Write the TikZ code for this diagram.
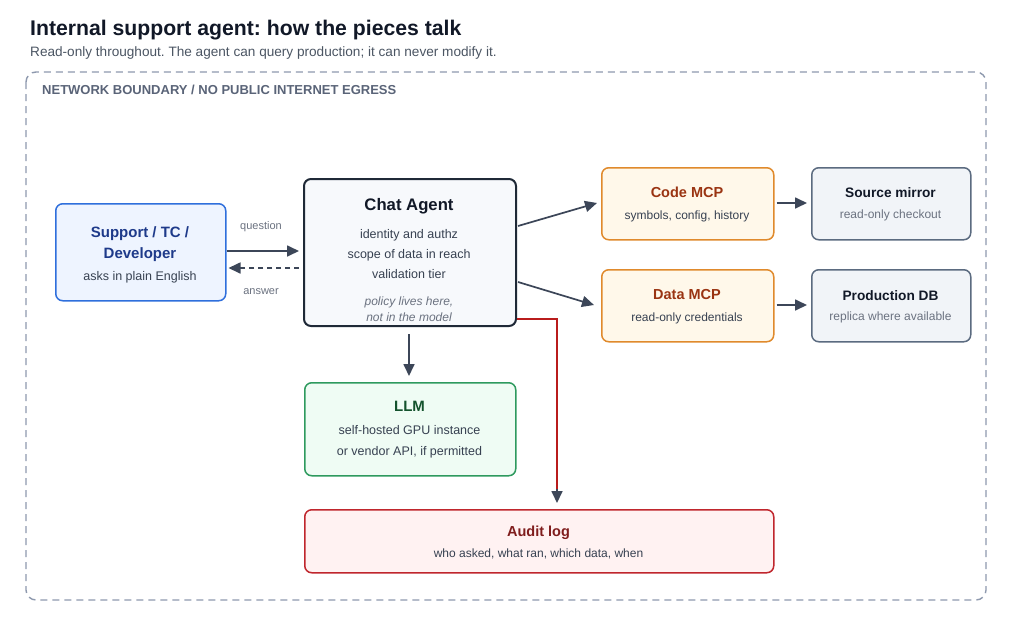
\documentclass[tikz,border=0pt]{standalone}
\usepackage{fontspec}
\setmainfont{Liberation Sans}
\usetikzlibrary{arrows.meta}
\frenchspacing
\definecolor{ink}{HTML}{111827}
\definecolor{sub}{HTML}{4B5563}
\definecolor{bnd}{HTML}{8E99AE}
\definecolor{bndtxt}{HTML}{5A6478}
\definecolor{arr}{HTML}{3C4658}
\definecolor{bluebd}{HTML}{2F6FDC}
\definecolor{bluefill}{HTML}{EEF4FF}
\definecolor{bluetxt}{HTML}{1E3A8A}
\definecolor{chatbd}{HTML}{1F2937}
\definecolor{chatfill}{HTML}{F7F9FC}
\definecolor{orbd}{HTML}{E08A2C}
\definecolor{orfill}{HTML}{FFF8EA}
\definecolor{ortxt}{HTML}{9A3412}
\definecolor{graybd}{HTML}{5B6B80}
\definecolor{grayfill}{HTML}{F1F4F8}
\definecolor{grbd}{HTML}{2E9A5E}
\definecolor{grfill}{HTML}{EFFCF4}
\definecolor{grtxt}{HTML}{14532D}
\definecolor{redbd}{HTML}{C0262D}
\definecolor{redfill}{HTML}{FFF2F2}
\definecolor{redtxt}{HTML}{7F1D1D}
\definecolor{redline}{HTML}{B91C1C}
\definecolor{bodytxt}{HTML}{374151}
\definecolor{mutetxt}{HTML}{6B7280}
\tikzset{
  boxbase/.style={draw, rounded corners=7pt, line width=1.5pt, inner sep=0pt, anchor=north west},
  txt/.style={inner sep=0pt, anchor=base},
  conn/.style={draw=arr, line width=1.7pt, -{Triangle[length=12pt,width=11pt]}},
}
\begin{document}
\begin{tikzpicture}[x=1pt,y=-1pt]
\useasboundingbox[fill=white] (0,0) rectangle (1024,640);
% title
\node[anchor=base west, inner sep=0pt, font=\fontsize{21.2}{24}\selectfont\bfseries, text=ink] (title) at (30,35) {Internal support agent: how the pieces talk};
\node[anchor=base west, inner sep=0pt, font=\fontsize{13.6}{16}\selectfont, text=sub] (subtitle) at (30,56) {Read-only throughout. The agent can query production; it can never modify it.};
% boundary
\draw[draw=bnd, line width=1.4pt, dash pattern=on 7pt off 5pt, rounded corners=10pt] (26,72) rectangle (986,600);
\node[anchor=base west, inner sep=0pt, font=\fontsize{13}{15}\selectfont\bfseries, text=bndtxt] (bndlabel) at (42,94) {NETWORK BOUNDARY / NO PUBLIC INTERNET EGRESS};

% support box
\node[boxbase, draw=bluebd, fill=bluefill, minimum width=170pt, minimum height=97pt] (support) at (55,203) {};
\node[txt, font=\fontsize{15}{17}\selectfont\bfseries, text=bluetxt] (supt1) at (140,237) {Support / TC /};
\node[txt, font=\fontsize{15}{17}\selectfont\bfseries, text=bluetxt] (supt2) at (140,258) {Developer};
\node[txt, font=\fontsize{12.5}{14}\selectfont, text=bodytxt] (supt3) at (140,280) {asks in plain English};

% chat agent
\node[boxbase, draw=chatbd, fill=chatfill, line width=2pt, minimum width=212pt, minimum height=147pt] (chat) at (303,178) {};
\node[txt, font=\fontsize{16.7}{19}\selectfont\bfseries, text=ink] (chatt) at (409,210) {Chat Agent};
\node[txt, font=\fontsize{12.5}{14}\selectfont, text=bodytxt] (chat1) at (409,238) {identity and authz};
\node[txt, font=\fontsize{12.5}{14}\selectfont, text=bodytxt] (chat2) at (409,258) {scope of data in reach};
\node[txt, font=\fontsize{12.5}{14}\selectfont, text=bodytxt] (chat3) at (409,278) {validation tier};
\node[txt, font=\fontsize{12}{14}\selectfont\itshape, text=mutetxt] (chat4) at (409,305) {policy lives here,};
\node[txt, font=\fontsize{12}{14}\selectfont\itshape, text=mutetxt] (chat5) at (409,321) {not in the model};

% code mcp
\node[boxbase, draw=orbd, fill=orfill, minimum width=172pt, minimum height=72pt] (code) at (601,167) {};
\node[txt, font=\fontsize{14.5}{17}\selectfont\bfseries, text=ortxt] (codet) at (687,197) {Code MCP};
\node[txt, font=\fontsize{12}{14}\selectfont, text=bodytxt] (code1) at (687,219) {symbols, config, history};

% data mcp
\node[boxbase, draw=orbd, fill=orfill, minimum width=172pt, minimum height=72pt] (data) at (601,269) {};
\node[txt, font=\fontsize{14.5}{17}\selectfont\bfseries, text=ortxt] (datat) at (687,299) {Data MCP};
\node[txt, font=\fontsize{12}{14}\selectfont, text=bodytxt] (data1) at (687,321) {read-only credentials};

% source mirror
\node[boxbase, draw=graybd, fill=grayfill, minimum width=159pt, minimum height=72pt] (src) at (811,167) {};
\node[txt, font=\fontsize{13.7}{16}\selectfont\bfseries, text=ink] (srct) at (890.5,197) {Source mirror};
\node[txt, font=\fontsize{12}{14}\selectfont, text=mutetxt] (src1) at (890.5,218) {read-only checkout};

% production db
\node[boxbase, draw=graybd, fill=grayfill, minimum width=159pt, minimum height=72pt] (prod) at (811,269) {};
\node[txt, font=\fontsize{13.7}{16}\selectfont\bfseries, text=ink] (prodt) at (890.5,300) {Production DB};
\node[txt, font=\fontsize{12}{14}\selectfont, text=mutetxt] (prod1) at (890.5,320) {replica where available};

% llm
\node[boxbase, draw=grbd, fill=grfill, minimum width=211pt, minimum height=93pt] (llm) at (304,382) {};
\node[txt, font=\fontsize{15}{17}\selectfont\bfseries, text=grtxt] (llmt) at (409.5,411) {LLM};
\node[txt, font=\fontsize{12.5}{14}\selectfont, text=bodytxt] (llm1) at (409.5,434) {self-hosted GPU instance};
\node[txt, font=\fontsize{12.5}{14}\selectfont, text=bodytxt] (llm2) at (409.5,455) {or vendor API, if permitted};

% audit
\node[boxbase, draw=redbd, fill=redfill, minimum width=469pt, minimum height=63pt] (audit) at (304,509) {};
\node[txt, font=\fontsize{14.5}{17}\selectfont\bfseries, text=redtxt] (auditt) at (538.5,536) {Audit log};
\node[txt, font=\fontsize{12}{14}\selectfont, text=bodytxt] (audit1) at (538.5,557) {who asked, what ran, which data, when};

% connectors
\draw[conn] (support.east |- 0,251) -- ([xshift=-4pt]chat.west |- 0,251);
\draw[conn, dash pattern=on 5pt off 4pt] ([xshift=-4pt]chat.west |- 0,268) -- ([xshift=2pt]support.east |- 0,268);
\node[txt, font=\fontsize{11}{13}\selectfont, text=mutetxt] (qlab) at (261,229) {question};
\node[txt, font=\fontsize{11}{13}\selectfont, text=mutetxt] (alab) at (261,294) {answer};

\draw[conn] ([xshift=1pt]chat.east |- 0,226) -- ([xshift=-4pt]code.west |- 0,203);
\draw[conn] ([xshift=1pt]chat.east |- 0,282) -- ([xshift=-7pt]data.west |- 0,305);
\draw[conn] ([xshift=2pt]code.east |- 0,203) -- ([xshift=-4pt]src.west |- 0,203);
\draw[conn] ([xshift=2pt]data.east |- 0,305) -- ([xshift=-4pt]prod.west |- 0,305);
\draw[conn] (chat.south -| 409,0) ++(0,7) -- ([yshift=6pt]llm.north -| 409,0);

\coordinate (rc) at (557,319);
\draw[draw=redline, line width=1.7pt] (chat.east |- 0,319) -- (rc) -- ([yshift=18pt]audit.north -| rc);
\draw[conn] ([yshift=20pt]audit.north -| rc) -- ([yshift=6pt]audit.north -| rc);
\end{tikzpicture}
\end{document}
